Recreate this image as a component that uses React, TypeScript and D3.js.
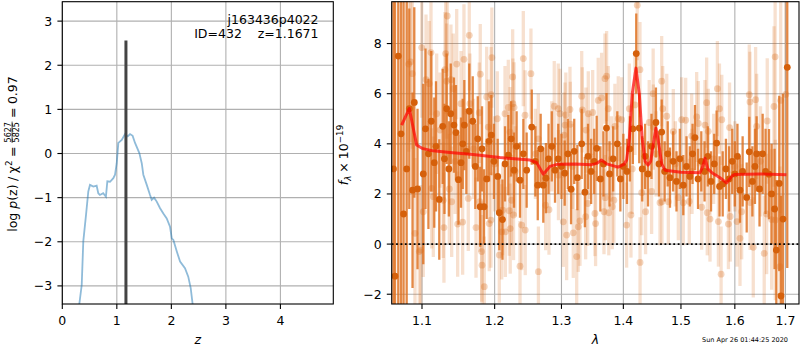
import React, { useEffect, useRef } from 'react';
import * as d3 from 'd3';

// ---- left panel: redshift probability ----
const PZ_Z = [0.312, 0.356, 0.385, 0.435, 0.477, 0.508, 0.569, 0.63, 0.66, 0.69, 0.75, 0.80, 0.826, 0.875, 0.936,
  0.967, 0.998, 1.028, 1.09, 1.15, 1.2, 1.242, 1.29, 1.334, 1.413, 1.457, 1.486, 1.549, 1.609, 1.64, 1.683, 1.732,
  1.793, 1.853, 1.915, 1.976, 2.007, 2.037, 2.1, 2.16, 2.25, 2.31, 2.355, 2.39];
const PZ_LOG = [-3.41, -2.98, -1.99, -1.39, -0.86, -0.71, -0.75, -0.73, -0.9, -0.94, -0.9, -0.98, -0.63, -0.64, -0.56,
  -0.48, -0.22, 0.24, 0.31, 0.44, 0.39, 0.44, 0.40, 0.24, 0.01, -0.22, -0.48, -0.71, -0.94, -1.05, -1.0, -1.09,
  -1.24, -1.36, -1.47, -1.66, -1.92, -1.96, -2.22, -2.45, -2.6, -2.79, -3.05, -3.41];
const Z_BEST = 1.1671;
const Z_LINE_TOP = 2.56;
const PZ_XTICKS = [0, 1, 2, 3, 4];
const PZ_YTICKS = [-3, -2, -1, 0, 1, 2, 3];

// ---- right panel: spectrum ----
const SPEC_XTICKS = [1.1, 1.2, 1.3, 1.4, 1.5, 1.6, 1.7];
const SPEC_YTICKS = [-2, 0, 2, 4, 6, 8];

const DARK_WAVE = [
  1.0630, 1.0650, 1.0692, 1.0727, 1.0760, 1.0800, 1.0834, 1.0876, 1.0899, 1.0941,
  1.1017, 1.1046, 1.1085, 1.1123, 1.1163, 1.1186, 1.1230, 1.1276, 1.1300, 1.1330,
  1.1360, 1.1385, 1.1429, 1.1457, 1.1491, 1.1526, 1.1550, 1.1572, 1.1600, 1.1641,
  1.1689, 1.1725, 1.1760, 1.1794, 1.1820, 1.1848, 1.1886, 1.1920, 1.1952, 1.1990,
  1.2044, 1.2067, 1.2113, 1.2150, 1.2198, 1.2240, 1.2282, 1.2320, 1.2370, 1.2420,
  1.2469, 1.2545, 1.2600, 1.2636, 1.2680, 1.2720, 1.2760, 1.2800, 1.2850, 1.2900,
  1.2950, 1.3000, 1.3050, 1.3100, 1.3150, 1.3200, 1.3250, 1.3319, 1.3370, 1.3420,
  1.3470, 1.3520, 1.3560, 1.3620, 1.3670, 1.3720, 1.3770, 1.3830, 1.3899, 1.3950,
  1.4000, 1.4060, 1.4110, 1.4160, 1.4218, 1.4269, 1.4320, 1.4370, 1.4420, 1.4480,
  1.4557, 1.4610, 1.4658, 1.4710, 1.4764, 1.4804, 1.4860, 1.4920, 1.4980, 1.5042,
  1.5100, 1.5160, 1.5210, 1.5254, 1.5310, 1.5370, 1.5430, 1.5490, 1.5550, 1.5610,
  1.5655, 1.5710, 1.5769, 1.5830, 1.5890, 1.5950, 1.6000, 1.6050, 1.6099, 1.6150,
  1.6229, 1.6279, 1.6340, 1.6390, 1.6423, 1.6480, 1.6542, 1.6600, 1.6668, 1.6720,
  1.6780, 1.6815, 1.6874, 1.6909, 1.6950, 1.7037];
const DARK_FLUX = [
  3.0, -1.28, 7.5, 4.4, 1.2, 3.0, 5.4, 2.15, 5.65, 2.2,
  2.8, 4.6, 3.6, 4.9, 3.25, 3.9, 1.78, 4.7, 3.4, 5.4,
  3.0, 5.2, 4.75, 4.45, 2.57, 3.25, 4.0, 4.75, 3.7, 5.3,
  4.9, 3.1, 4.2, 1.49, 3.8, 1.49, 2.6, 4.1, 4.35, 3.3,
  2.7, 1.25, 0.98, 3.2, 3.55, 4.2, 2.95, 3.9, 2.55, 3.6,
  2.95, 4.67, 3.3, 2.35, 3.8, 2.35, 2.63, 3.4, 3.9, 2.95,
  3.4, 3.1, 2.83, 3.6, 2.19, 3.7, 2.65, 4.0, 2.07, 3.5,
  2.9, 3.3, 3.82, 2.6, 3.2, 4.63, 2.8, 3.4, 4.0, 2.6,
  3.1, 2.9, 3.8, 4.6, 7.6, 4.63, 3.0, 3.5, 2.8, 3.9,
  4.85, 3.2, 4.47, 2.9, 3.6, 2.65, 3.3, 2.5, 3.4, 2.35,
  3.1, 2.7, 3.6, 4.25, 2.6, 3.3, 2.9, 3.5, 2.5, 3.2,
  4.03, 2.3, 2.4, 3.0, 2.6, 3.3, 2.8, 3.5, 2.15, 2.9,
  1.86, 3.68, 2.5, 3.1, 3.6, 2.2, 3.6, 2.9, 2.79, 2.0,
  1.4, -0.24, 2.42, -2.07, 1.0, 7.05];
const DARK_ERR = [
  12, 12, 11, 9, 8.5, 7, 4, 3.9, 3.8, 3.2,
  3.6, 3.2, 3.0, 2.8, 2.6, 2.6, 2.4, 2.3, 2.2, 2.2,
  1.9, 2.0, 1.9, 1.9, 1.8, 1.8, 1.8, 1.8, 1.7, 1.9,
  1.8, 1.7, 1.7, 1.6, 1.7, 1.5, 1.6, 1.6, 1.6, 1.5,
  1.5, 1.5, 1.6, 1.5, 1.6, 1.5, 1.5, 1.4, 1.5, 1.4,
  1.5, 1.5, 1.4, 1.4, 1.4, 1.5, 1.4, 1.4, 1.4, 1.3,
  1.4, 1.3, 1.3, 1.4, 1.4, 1.3, 1.3, 1.4, 1.4, 1.3,
  1.3, 1.3, 1.3, 1.3, 1.3, 1.4, 1.3, 1.3, 1.3, 1.3,
  1.3, 1.3, 1.3, 1.4, 1.6, 1.4, 1.3, 1.3, 1.3, 1.3,
  1.4, 1.3, 1.3, 1.2, 1.3, 1.2, 1.2, 1.2, 1.2, 1.2,
  1.2, 1.2, 1.2, 1.3, 1.2, 1.2, 1.2, 1.2, 1.2, 1.2,
  1.3, 1.2, 1.3, 1.2, 1.3, 1.3, 1.3, 1.3, 1.3, 1.4,
  1.4, 1.4, 1.4, 1.5, 1.5, 1.5, 1.6, 1.7, 1.8, 2.0,
  2.4, 2.8, 3.5, 4.0, 5.0, 8.0];

const LIGHT_WAVE = [
  1.0826, 1.0852, 1.0873, 1.0908, 1.0965, 1.0983, 1.0996, 1.1017, 1.1053, 1.1096,
  1.1119, 1.1128, 1.1150, 1.1195, 1.1240, 1.1284, 1.1293, 1.1307, 1.1316, 1.1330,
  1.1338, 1.1366, 1.1388, 1.1398, 1.1420, 1.1445, 1.1467, 1.1480, 1.1526, 1.1549,
  1.1567, 1.1627, 1.1641, 1.1650, 1.1700, 1.1735, 1.1781, 1.1788, 1.1795, 1.1815,
  1.1820, 1.1852, 1.1886, 1.1909, 1.1923, 1.1947, 1.1950, 1.1960, 1.2000, 1.2038,
  1.2067, 1.2102, 1.2116, 1.2150, 1.2155, 1.2198, 1.2212, 1.2223, 1.2226, 1.2246,
  1.2262, 1.2265, 1.2275, 1.2282, 1.2300, 1.2370, 1.2395, 1.2419, 1.2445, 1.2448,
  1.2533, 1.2600, 1.2644, 1.2646, 1.2756, 1.2807, 1.2850, 1.2888, 1.2950, 1.2953,
  1.2977, 1.3028, 1.3040, 1.3055, 1.3068, 1.3081, 1.3133, 1.3138, 1.3170, 1.3185,
  1.3239, 1.3264, 1.3291, 1.3319, 1.3328, 1.3382, 1.3386, 1.3415, 1.3424, 1.3450,
  1.3495, 1.3532, 1.3542, 1.3585, 1.3640, 1.3679, 1.3695, 1.3700, 1.3722, 1.3749,
  1.3758, 1.3800, 1.3815, 1.3842, 1.3859, 1.3915, 1.3972, 1.4055, 1.4100, 1.4128,
  1.4150, 1.4196, 1.4235, 1.4281, 1.4283, 1.4311, 1.4378, 1.4440, 1.4482, 1.4509,
  1.4512, 1.4560, 1.4628, 1.4658, 1.4662, 1.4676, 1.4747, 1.4775, 1.4863, 1.4900,
  1.4953, 1.5013, 1.5042, 1.5085, 1.5150, 1.5194, 1.5200, 1.5285, 1.5315, 1.5377,
  1.5438, 1.5469, 1.5480, 1.5499, 1.5531, 1.5600, 1.5669, 1.5688, 1.5708, 1.5739,
  1.5752, 1.5877, 1.5899, 1.5912, 1.6000, 1.6041, 1.6099, 1.6131, 1.6279, 1.6292,
  1.6295, 1.6357, 1.6403, 1.6423, 1.6500, 1.6573, 1.6621, 1.6633, 1.6721, 1.6768,
  1.6791, 1.6795, 1.6889, 1.6904, 1.7006];
const LIGHT_FLUX = [
  7.18, 7.27, 6.8, 0.43, -0.3, -0.24, 7.84, 1.29, 6.56, 6.4,
  7.64, 2.22, 1.89, 5.2, 4.55, 1.75, 0.66, 6.96, 7.6, 6.5,
  9.1, 2.2, 6.56, 1.69, 6.2, 3.3, 7.18, 0.8, 5.6, 0.88,
  7.37, 1.82, 8.33, 5.6, 3.8, 0.66, 5.24, 1.69, 6.78, -0.3,
  -0.84, -1.7, 5.87, 4.67, 0.82, 0.96, 5.96, 7.44, 3.2, 5.0,
  -0.44, 0.49, 1.35, 5.2, 0.49, 5.45, 1.33, 4.47, 0.62, 1.75,
  6.67, 5.6, 1.16, 5.45, 2.9, -0.88, 0.76, 7.4, 5.14, 0.56,
  6.8, 3.6, 4.2, -1.1, 1.55, 1.37, 3.9, 5.5, 5.4, 2.75,
  5.2, 0.89, 4.35, 4.75, 5.15, 0.36, 5.37, 4.78, 3.1, 0.45,
  -0.5, 0.69, 0.93, 5.9, 5.35, 1.09, 4.55, 1.62, 5.2, 3.5,
  5.25, 1.22, 0.82, 5.73, 5.83, 1.29, 6.6, 1.85, 6.7, 5.4,
  1.25, 3.4, 1.49, 1.75, 4.7, 5.0, 4.96, 0.76, 5.4, 1.16,
  3.0, 5.55, 9.53, 6.96, -0.73, 2.05, 1.29, 4.85, 2.1, 6.0,
  4.67, 3.6, 1.65, 6.5, 1.69, 5.4, 5.1, 1.69, 4.49, 3.2,
  1.85, 4.96, 1.65, 4.94, 1.7, 4.31, 2.9, 5.07, 4.81, 1.47,
  4.75, 5.64, 1.25, 4.5, 1.0, 3.4, 6.2, 0.9, 5.4, -1.2,
  4.96, 0.8, 4.65, 1.1, 3.1, 0.9, 0.23, 1.29, 5.96, 5.67,
  1.66, -0.13, 5.76, 4.7, 3.3, -0.37, 1.2, 4.91, 0.98, 5.49,
  7.47, 0.96, -0.9, 5.73, 5.97];
const LIGHT_ERR = [
  3.5, 3.2, 3.0, 3.0, 2.6, 2.6, 2.8, 2.6, 2.6, 2.5,
  2.5, 2.4, 2.4, 2.4, 2.3, 2.3, 2.2, 2.3, 2.4, 2.3,
  2.4, 2.2, 2.2, 2.2, 2.2, 2.1, 2.2, 2.1, 2.1, 2.1,
  2.2, 2.1, 2.2, 2.0, 2.0, 2.0, 2.0, 2.0, 2.0, 2.0,
  2.0, 2.0, 2.0, 1.9, 1.9, 1.9, 1.9, 2.0, 1.9, 1.9,
  1.9, 1.9, 1.8, 1.9, 1.8, 1.9, 1.8, 1.8, 1.8, 1.8,
  1.9, 1.8, 1.8, 1.8, 1.8, 1.8, 1.8, 1.9, 1.8, 1.8,
  1.8, 1.8, 1.8, 1.8, 1.8, 1.8, 1.8, 1.8, 1.8, 1.8,
  1.8, 1.8, 1.7, 1.7, 1.7, 1.8, 1.7, 1.7, 1.7, 1.8,
  1.9, 1.8, 1.8, 1.8, 1.7, 1.7, 1.7, 1.7, 1.7, 1.7,
  1.7, 1.7, 1.7, 1.7, 1.8, 1.7, 1.8, 1.7, 1.8, 1.7,
  1.7, 1.7, 1.7, 1.7, 1.7, 1.7, 1.7, 1.7, 1.8, 1.7,
  1.8, 2.0, 2.2, 1.9, 1.8, 1.7, 1.7, 1.7, 1.7, 1.8,
  1.7, 1.7, 1.7, 1.8, 1.7, 1.7, 1.7, 1.7, 1.7, 1.7,
  1.7, 1.7, 1.7, 1.7, 1.7, 1.7, 1.7, 1.8, 1.7, 1.7,
  1.8, 1.8, 1.7, 1.7, 1.7, 1.8, 1.9, 1.8, 1.8, 1.9,
  1.8, 1.8, 1.8, 1.8, 1.8, 1.8, 1.9, 1.9, 2.0, 2.0,
  1.9, 2.0, 2.1, 2.1, 2.2, 2.3, 2.4, 2.5, 2.8, 3.2,
  3.5, 3.2, 4.0, 4.5, 5.0];

const MODEL_WAVE = [1.0735, 1.0834, 1.0900, 1.0930, 1.1000, 1.1146, 1.1375, 1.1693, 1.2077, 1.2518,
  1.2620, 1.2720, 1.2823, 1.2946, 1.3212, 1.3478, 1.3560, 1.3640, 1.3720, 1.3910,
  1.4010, 1.4055, 1.4100, 1.4150, 1.4213, 1.4270, 1.4320, 1.4370, 1.4420, 1.4466,
  1.4516, 1.4557, 1.4607, 1.4658, 1.4716, 1.5000, 1.5345, 1.5390, 1.5439, 1.5490,
  1.5567, 1.5718, 1.5840, 1.5950, 1.6003, 1.6489, 1.7020];
const MODEL_FLUX = [4.75, 5.41, 4.4, 3.95, 3.82, 3.72, 3.65, 3.57, 3.45, 3.35,
  3.25, 2.79, 3.1, 3.19, 3.2, 3.17, 3.22, 3.35, 3.2, 3.07,
  3.18, 3.35, 4.2, 6.0, 7.02, 6.0, 4.2, 3.3, 3.15, 3.3,
  4.05, 4.62, 4.0, 3.2, 2.95, 2.87, 2.85, 3.05, 3.42, 3.0,
  2.85, 2.65, 2.44, 2.72, 2.78, 2.8, 2.77];

const TITLE = 'j163436p4022';
const SUBTITLE = 'ID=432    z=1.1671';
const STAMP = 'Sun Apr 26 01:44:25 2020';

const FONT = "'DejaVu Sans', sans-serif";
const ORANGE = '#d9650f';
const FS = 12.5;
const TICK = 4.9;

const fmt = (v, d) => {
  const s = Math.abs(v).toFixed(d);
  return v < 0 ? '\u2212' + s : s;
};

function zip3(a, b, c) {
  const n = Math.min(a.length, b.length, c.length);
  return d3.range(n).map(i => ({ w: a[i], f: b[i], e: c[i] }));
}

function grid(g, box, xs, ys, xt, yt) {
  const gg = g.append('g').attr('stroke', '#b0b0b0').attr('stroke-width', 1.1);
  xt.forEach(t => gg.append('line').attr('x1', xs(t)).attr('x2', xs(t)).attr('y1', box.y0).attr('y2', box.y1));
  yt.forEach(t => gg.append('line').attr('x1', box.x0).attr('x2', box.x1).attr('y1', ys(t)).attr('y2', ys(t)));
}

function axes(g, box, xs, ys, xt, yt, xf, yf) {
  g.append('rect').attr('x', box.x0).attr('y', box.y0)
    .attr('width', box.x1 - box.x0).attr('height', box.y1 - box.y0)
    .attr('fill', 'none').attr('stroke', '#000').attr('stroke-width', 1.1);
  const tg = g.append('g').attr('stroke', '#000').attr('stroke-width', 1.1);
  xt.forEach(t => tg.append('line').attr('x1', xs(t)).attr('x2', xs(t)).attr('y1', box.y1).attr('y2', box.y1 + TICK));
  yt.forEach(t => tg.append('line').attr('x1', box.x0 - TICK).attr('x2', box.x0).attr('y1', ys(t)).attr('y2', ys(t)));
  const lg = g.append('g').attr('font-family', FONT).attr('font-size', FS).attr('fill', '#000');
  xt.forEach(t => lg.append('text').attr('x', xs(t)).attr('y', box.y1 + 21)
    .attr('text-anchor', 'middle').text(xf(t)));
  yt.forEach(t => lg.append('text').attr('x', box.x0 - 10).attr('y', ys(t)).attr('dy', '0.36em')
    .attr('text-anchor', 'end').text(yf(t)));
}

// lays out pieces of a math label along a rotated baseline, centred on (x, y)
function mathLabel(svg, x, y, parts) {
  const outer = svg.append('g').attr('transform', `translate(${x},${y}) rotate(-90)`)
    .attr('font-family', FONT).attr('fill', '#000');
  const g = outer.append('g');
  let cx = 0;
  parts.forEach(p => {
    if (p.gap) { cx += p.gap; return; }
    if (p.num) {
      const size = p.size;
      const n = g.append('text').attr('font-size', size).attr('y', p.numY).text(p.num);
      const dd = g.append('text').attr('font-size', size).attr('y', p.denY).text(p.den);
      const wn = n.node().getComputedTextLength();
      const wd = dd.node().getComputedTextLength();
      const w = Math.max(wn, wd) + 1;
      n.attr('x', cx + (w - wn) / 2);
      dd.attr('x', cx + (w - wd) / 2);
      g.append('line').attr('x1', cx).attr('x2', cx + w).attr('y1', p.barY).attr('y2', p.barY)
        .attr('stroke', '#000').attr('stroke-width', 0.7);
      cx += w;
      return;
    }
    const t = g.append('text').attr('x', cx).attr('y', p.dy || 0)
      .attr('font-size', p.size || FS)
      .attr('font-style', p.italic ? 'italic' : 'normal')
      .text(p.text);
    cx += t.node().getComputedTextLength();
  });
  g.attr('transform', `translate(${-cx / 2},0)`);
}

function drawPz(svg) {
  const box = { x0: 62.3, x1: 333.3, y0: 1.7, y1: 304 };
  const xs = d3.scaleLinear().domain([0, 4.97]).range([box.x0, box.x1]);
  const ys = d3.scaleLinear().domain([-3.41, 3.44]).range([box.y1, box.y0]);
  const g = svg.append('g');
  grid(g, box, xs, ys, PZ_XTICKS, PZ_YTICKS);

  svg.append('clipPath').attr('id', 'pzclip').append('rect')
    .attr('x', box.x0).attr('y', box.y0).attr('width', box.x1 - box.x0).attr('height', box.y1 - box.y0);
  const data = g.append('g').attr('clip-path', 'url(#pzclip)');
  const line = d3.line().x(d => xs(d[0])).y(d => ys(d[1]));
  data.append('path').attr('d', line(PZ_Z.map((z, i) => [z, PZ_LOG[i]])))
    .attr('fill', 'none').attr('stroke', '#1f77b4').attr('stroke-opacity', 0.5).attr('stroke-width', 1.8);
  data.append('line').attr('x1', xs(Z_BEST)).attr('x2', xs(Z_BEST))
    .attr('y1', ys(-3.41)).attr('y2', ys(Z_LINE_TOP))
    .attr('stroke', '#444').attr('stroke-width', 3);

  axes(g, box, xs, ys, PZ_XTICKS, PZ_YTICKS, t => String(t), t => fmt(t, 0));

  const tg = g.append('g').attr('font-family', FONT).attr('font-size', FS).attr('text-anchor', 'end');
  tg.append('text').attr('x', 318.5).attr('y', 24).text(TITLE);
  tg.append('text').attr('x', 318.5).attr('y', 38.3).style('white-space', 'pre').text(SUBTITLE);

  g.append('text').attr('x', (box.x0 + box.x1) / 2).attr('y', 343.5).attr('text-anchor', 'middle')
    .attr('font-family', FONT).attr('font-size', FS).attr('font-style', 'italic').text('z');

  mathLabel(svg, 17.3, 154, [
    { text: 'log' }, { gap: 4 }, { text: 'p', italic: true }, { text: '(z)' }, { gap: 3.5 },
    { text: '/' }, { gap: 3.5 }, { text: '\u03c7' }, { text: '2', size: 8.75, dy: -5 },
    { gap: 3.5 }, { text: '=' }, { gap: 3.5 },
    { num: '5627', den: '5825', size: 8, numY: -6.8, denY: 1.5, barY: -5.2 },
    { gap: 3.5 }, { text: '=' }, { gap: 3.5 }, { text: '0.97' },
  ]);
}

function drawSpec(svg) {
  const box = { x0: 391.7, x1: 799, y0: 1.7, y1: 304 };
  const xs = d3.scaleLog().domain([1.0608, 1.7278]).range([box.x0, box.x1]);
  const ys = d3.scaleLinear().domain([-2.39, 9.67]).range([box.y1, box.y0]);
  const g = svg.append('g');
  grid(g, box, xs, ys, SPEC_XTICKS, SPEC_YTICKS);

  svg.append('clipPath').attr('id', 'specclip').append('rect')
    .attr('x', box.x0).attr('y', box.y0).attr('width', box.x1 - box.x0).attr('height', box.y1 - box.y0);
  const data = g.append('g').attr('clip-path', 'url(#specclip)');

  const light = zip3(LIGHT_WAVE, LIGHT_FLUX, LIGHT_ERR);
  const dark = zip3(DARK_WAVE, DARK_FLUX, DARK_ERR);

  data.append('g').selectAll('line').data(light).join('line')
    .attr('x1', d => xs(d.w)).attr('x2', d => xs(d.w))
    .attr('y1', d => ys(d.f - d.e)).attr('y2', d => ys(d.f + d.e))
    .attr('stroke', ORANGE).attr('stroke-opacity', 0.2).attr('stroke-width', 3.3);
  data.append('g').selectAll('circle').data(light).join('circle')
    .attr('cx', d => xs(d.w)).attr('cy', d => ys(d.f)).attr('r', 3.4)
    .attr('fill', ORANGE).attr('fill-opacity', 0.28);

  data.append('g').selectAll('line').data(dark).join('line')
    .attr('x1', d => xs(d.w)).attr('x2', d => xs(d.w))
    .attr('y1', d => ys(d.f - d.e)).attr('y2', d => ys(d.f + d.e))
    .attr('stroke', '#de6f1d').attr('stroke-opacity', 0.82).attr('stroke-width', 2.3);
  data.append('g').selectAll('circle').data(dark).join('circle')
    .attr('cx', d => xs(d.w)).attr('cy', d => ys(d.f)).attr('r', 3.4)
    .attr('fill', '#d5600b');

  const line = d3.line().x(d => xs(d[0])).y(d => ys(d[1]));
  data.append('path').attr('d', line(MODEL_WAVE.map((w, i) => [w, MODEL_FLUX[i]])))
    .attr('fill', 'none').attr('stroke', '#ff0000').attr('stroke-opacity', 0.7)
    .attr('stroke-width', 3).attr('stroke-linejoin', 'round');

  data.append('line').attr('x1', box.x0).attr('x2', box.x1).attr('y1', ys(0)).attr('y2', ys(0))
    .attr('stroke', '#000').attr('stroke-width', 1.8).attr('stroke-dasharray', '1.8,2.6');

  axes(g, box, xs, ys, SPEC_XTICKS, SPEC_YTICKS, t => t.toFixed(1), t => fmt(t, 0));

  g.append('text').attr('x', (box.x0 + box.x1) / 2).attr('y', 343.5).attr('text-anchor', 'middle')
    .attr('font-family', FONT).attr('font-size', FS).attr('font-style', 'italic').text('\u03bb');

  mathLabel(svg, 348, 155, [
    { text: 'f', italic: true }, { text: '\u03bb', size: 8.75, dy: 3, italic: true },
    { gap: 3 }, { text: '\u00d7' }, { gap: 3 }, { text: '10' },
    { text: '\u221219', size: 8.75, dy: -5 },
  ]);

  svg.append('text').attr('x', 788).attr('y', 341.5).attr('text-anchor', 'end')
    .attr('font-family', FONT).attr('font-size', 6.5).text(STAMP);
}

export default function App() {
  const ref = useRef(null);
  useEffect(() => {
    const svg = d3.select(ref.current);
    svg.selectAll('*').remove();
    svg.append('rect').attr('width', 800).attr('height', 350).attr('fill', '#fff');
    drawPz(svg);
    drawSpec(svg);
  }, []);
  return (
    <svg ref={ref} width={800} height={350}
      style={{ position: 'absolute', left: 0, top: 0, display: 'block' }} />
  );
}
